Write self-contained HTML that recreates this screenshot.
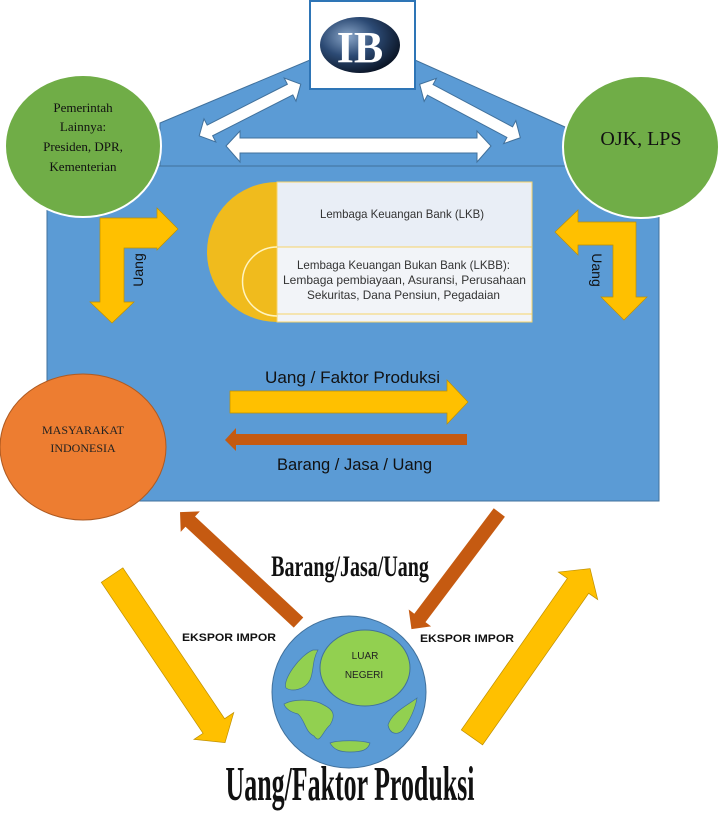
<!DOCTYPE html>
<html><head><meta charset="utf-8"><style>
body{margin:0;background:#fff;width:719px;height:816px;overflow:hidden}
svg{display:block}
.s{font-family:"Liberation Serif",serif}
.n{font-family:"Liberation Sans",sans-serif}
</style></head><body>
<svg width="719" height="816" viewBox="0 0 719 816" xmlns="http://www.w3.org/2000/svg">
<polygon points="160,123 310,60 415,60 565,127 565,167 160,167" fill="#5b9bd5" stroke="#41719c" stroke-width="1"/>
<rect x="47" y="166" width="612" height="335" fill="#5b9bd5" stroke="#41719c" stroke-width="1"/>
<rect x="310" y="1" width="105" height="88" fill="#fff" stroke="#2e75b6" stroke-width="2"/>
<defs><radialGradient id="g" cx="35%" cy="35%" r="70%"><stop offset="0" stop-color="#8aa6c8"/><stop offset="0.5" stop-color="#2c4a74"/><stop offset="1" stop-color="#0b1526"/></radialGradient></defs>
<ellipse cx="360" cy="45" rx="40" ry="28" fill="url(#g)"/>
<text x="360" y="62" text-anchor="middle" class="s" font-size="44" fill="#fff" font-weight="bold">IB</text>
<polygon points="226,146 240,131 240,138 477,138 477,131 491,146 477,162 477,153 240,153 240,162" fill="#fff" stroke="#41719c"/>
<g transform="translate(250,110) rotate(-27)"><polygon points="-57,0 -45,-13 -45,-6 45,-6 45,-13 57,0 45,13 45,6 -45,6 -45,13" fill="#fff" stroke="#41719c"/></g>
<g transform="translate(470,111) rotate(28)"><polygon points="-57,0 -45,-13 -45,-6 45,-6 45,-13 57,0 45,13 45,6 -45,6 -45,13" fill="#fff" stroke="#41719c"/></g>
<ellipse cx="83" cy="146" rx="78" ry="71" fill="#70ad47" stroke="#fff" stroke-width="2"/>
<ellipse cx="641" cy="147" rx="78" ry="71" fill="#70ad47" stroke="#fff" stroke-width="2"/>
<g class="s" font-size="13" text-anchor="middle" fill="#111">
<text x="83" y="112">Pemerintah</text><text x="83" y="131">Lainnya:</text><text x="83" y="151">Presiden, DPR,</text><text x="83" y="171">Kementerian</text></g>
<text x="641" y="145" class="s" font-size="20" text-anchor="middle" fill="#111">OJK, LPS</text>
<path d="M277,182 A70,70 0 0 0 277,322 Z" fill="#f0bb1d"/>
<rect x="277" y="182" width="255" height="140" fill="#f2f4f8" stroke="#f6d36a"/>
<rect x="277" y="182" width="255" height="65" fill="#e9eef6" stroke="#f6d36a"/>
<path d="M277,247 A34,34 0 0 0 277,316" fill="none" stroke="#fff4c0" stroke-width="1.5"/>
<line x1="277" y1="314" x2="532" y2="314" stroke="#f6d36a"/>
<g class="n" font-size="12" fill="#333" lengthAdjust="spacingAndGlyphs">
<text x="320" y="218" textLength="164" lengthAdjust="spacingAndGlyphs">Lembaga Keuangan Bank (LKB)</text>
<text x="297" y="269" textLength="213" lengthAdjust="spacingAndGlyphs">Lembaga Keuangan Bukan Bank (LKBB):</text>
<text x="283" y="284" textLength="243" lengthAdjust="spacingAndGlyphs">Lembaga pembiayaan, Asuransi, Perusahaan</text>
<text x="307" y="299" textLength="193" lengthAdjust="spacingAndGlyphs">Sekuritas, Dana Pensiun, Pegadaian</text></g>
<polygon points="100,218 157,218 157,208 178,229 157,250 157,248 124,248 124,302 134,302 112,323 90,302 100,302" fill="#ffc000" stroke="#bf9000" stroke-width="0.7"/>
<polygon points="636,222 578,222 578,210 555,232 578,255 578,245 613,245 613,297 601,297 624,320 647,297 636,297" fill="#ffc000" stroke="#bf9000" stroke-width="0.7"/>
<text transform="translate(143,270) rotate(-90)" class="n" font-size="14" text-anchor="middle" fill="#111">Uang</text>
<text transform="translate(592,270) rotate(90)" class="n" font-size="14" text-anchor="middle" fill="#111">Uang</text>
<ellipse cx="83" cy="447" rx="83" ry="73" fill="#ed7d31" stroke="#ae5a21"/>
<g class="s" font-size="12" text-anchor="middle" fill="#222"><text x="83" y="434">MASYARAKAT</text><text x="83" y="452">INDONESIA</text></g>
<polygon points="230,391 447,391 447,380 468,402 447,424 447,413 230,413" fill="#ffc000" stroke="#bf9000" stroke-width="0.7"/>
<polygon points="467,434 236,434 236,428 225,440 236,451 236,445 467,445" fill="#c55a11"/>
<g class="n" font-size="17" fill="#111"><text x="265" y="383" textLength="175" lengthAdjust="spacingAndGlyphs">Uang / Faktor Produksi</text><text x="277" y="470" textLength="155" lengthAdjust="spacingAndGlyphs">Barang / Jasa / Uang</text></g>
<g transform="translate(240,568) rotate(-137)"><polygon points="-80,-7 68,-7 68,-14 82,0 68,14 68,7 -80,7" fill="#c55a11"/></g>
<g transform="translate(456,570) rotate(127)"><polygon points="-72,-7 60,-7 60,-14 74,0 60,14 60,7 -72,7" fill="#c55a11"/></g>
<g transform="translate(168,658) rotate(56)"><polygon points="-100,-13 82,-13 82,-24 102,0 82,24 82,13 -100,13" fill="#ffc000" stroke="#bf9000" stroke-width="0.7"/></g>
<g transform="translate(531,653) rotate(-55)"><polygon points="-103,-13 82,-13 82,-24 103,0 82,24 82,13 -103,13" fill="#ffc000" stroke="#bf9000" stroke-width="0.7"/></g>
<ellipse cx="349" cy="692" rx="77" ry="76" fill="#5b9bd5" stroke="#41719c"/>
<ellipse cx="365" cy="668" rx="45" ry="38" fill="#92d050" stroke="#41719c"/>
<g fill="#92d050" stroke="#41719c" stroke-width="0.7">
<path d="M313,650 C300,655 282,680 286,688 C292,692 305,690 310,680 C314,672 312,660 318,650 Z"/>
<path d="M284,704 C295,698 312,700 320,703 C330,708 338,712 330,725 C322,732 320,745 314,736 C305,732 305,720 298,714 C290,712 285,708 284,704 Z"/>
<path d="M417,698 C408,705 392,712 388,725 C390,735 398,735 403,730 C410,720 415,710 417,698 Z"/>
<path d="M330,743 C338,740 360,740 370,743 C368,750 362,752 350,752 C340,752 334,750 330,743 Z"/>
</g>
<g class="n" font-size="10" text-anchor="middle" fill="#222"><text x="365" y="659">LUAR</text><text x="364" y="678">NEGERI</text></g>
<g class="n" font-size="11" font-weight="bold" fill="#111"><text x="182" y="641" textLength="94" lengthAdjust="spacingAndGlyphs">EKSPOR IMPOR</text><text x="420" y="642" textLength="94" lengthAdjust="spacingAndGlyphs">EKSPOR IMPOR</text></g>
<text x="350" y="576" text-anchor="middle" class="s" font-weight="bold" font-size="25" transform="translate(350,576) scale(0.8,1.2) translate(-350,-576)" fill="#111">Barang/Jasa/Uang</text>
<text x="350" y="800" text-anchor="middle" class="s" font-weight="bold" font-size="36" transform="translate(350,800) scale(0.72,1.35) translate(-350,-800)" fill="#111">Uang/Faktor Produksi</text>
</svg>
</body></html>
